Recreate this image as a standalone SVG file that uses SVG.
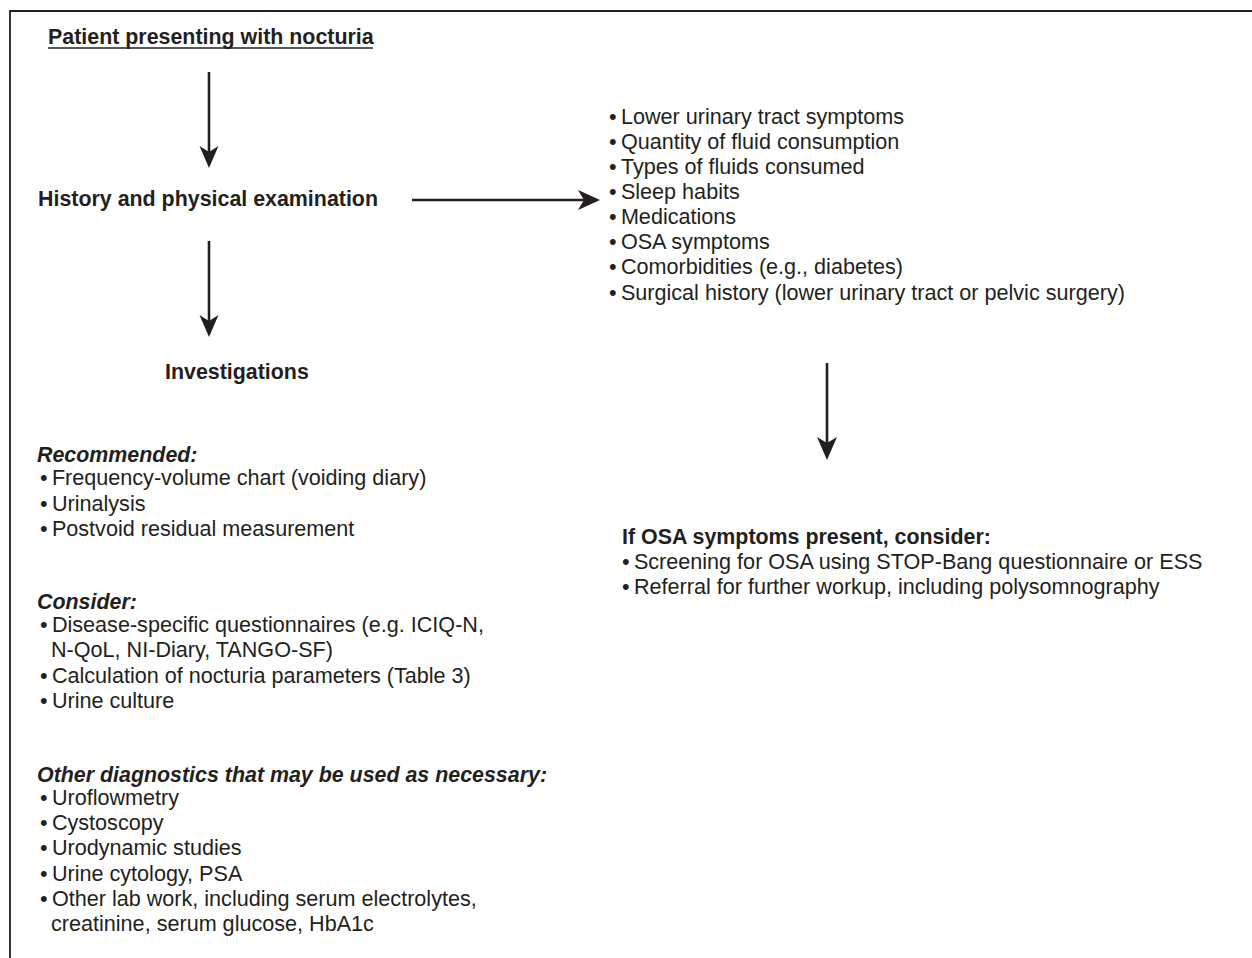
<svg xmlns="http://www.w3.org/2000/svg" width="1252" height="958" viewBox="0 0 1252 958">
<style>
text{font-family:"Liberation Sans",Arial,Helvetica,sans-serif;fill:#231f20;font-size:21.6px}
.b{font-weight:bold;font-size:21.4px}
.bi{font-weight:bold;font-style:italic;font-size:21.4px}
.ln{stroke:#231f20;stroke-width:2.6;fill:none}
.hd{fill:#231f20;stroke:none}
.frame{stroke:#231f20;stroke-width:1.8;fill:none}
</style>
<rect width="1252" height="958" fill="#ffffff"/>
<g id="frame">
<path class="frame" d="M10,958 L10,11 L1252,11"/>
</g>
<g id="connectors">
<line class="ln" x1="209" y1="72" x2="209" y2="155"/>
<path class="hd" d="M209,168 L199.5,146 L209,152 L218.5,146 Z"/>
<line class="ln" x1="209" y1="241" x2="209" y2="324"/>
<path class="hd" d="M209,337 L199.5,315 L209,321 L218.5,315 Z"/>
<line class="ln" x1="412" y1="200" x2="588" y2="200"/>
<path class="hd" d="M600,200 L578,190 L584,200 L578,210 Z"/>
<line class="ln" x1="827" y1="363" x2="827" y2="447"/>
<path class="hd" d="M827,460 L817,437 L827,443 L837,437 Z"/>
</g>
<g id="start">
<text class="b" x="48" y="44">Patient presenting with nocturia</text>
<line x1="48" y1="48" x2="373" y2="48" stroke="#231f20" stroke-width="1.6"/>
</g>
<g id="history">
<text class="b" x="38" y="206">History and physical examination</text>
</g>
<g id="investigations">
<text class="b" x="165" y="379">Investigations</text>
</g>
<g id="history-items">
<text x="609" y="124">•&#8201;Lower urinary tract symptoms</text>
<text x="609" y="149">•&#8201;Quantity of fluid consumption</text>
<text x="609" y="174">•&#8201;Types of fluids consumed</text>
<text x="609" y="199">•&#8201;Sleep habits</text>
<text x="609" y="224">•&#8201;Medications</text>
<text x="609" y="249">•&#8201;OSA symptoms</text>
<text x="609" y="274">•&#8201;Comorbidities (e.g., diabetes)</text>
<text x="609" y="300">•&#8201;Surgical history (lower urinary tract or pelvic surgery)</text>
</g>
<g id="osa">
<text class="b" x="622" y="544">If OSA symptoms present, consider:</text>
<text x="622" y="569">•&#8201;Screening for OSA using STOP-Bang questionnaire or ESS</text>
<text x="622" y="594">•&#8201;Referral for further workup, including polysomnography</text>
</g>
<g id="investigation-items">
<text class="bi" x="37" y="462">Recommended:</text>
<text x="40" y="485">•&#8201;Frequency-volume chart (voiding diary)</text>
<text x="40" y="511">•&#8201;Urinalysis</text>
<text x="40" y="536">•&#8201;Postvoid residual measurement</text>
<text class="bi" x="37" y="609">Consider:</text>
<text x="40" y="632">•&#8201;Disease-specific questionnaires (e.g. ICIQ-N,</text>
<text x="51" y="657">N-QoL, NI-Diary, TANGO-SF)</text>
<text x="40" y="683">•&#8201;Calculation of nocturia parameters (Table 3)</text>
<text x="40" y="708">•&#8201;Urine culture</text>
<text class="bi" x="37" y="782">Other diagnostics that may be used as necessary:</text>
<text x="40" y="805">•&#8201;Uroflowmetry</text>
<text x="40" y="830">•&#8201;Cystoscopy</text>
<text x="40" y="855">•&#8201;Urodynamic studies</text>
<text x="40" y="881">•&#8201;Urine cytology, PSA</text>
<text x="40" y="906">•&#8201;Other lab work, including serum electrolytes,</text>
<text x="51" y="931">creatinine, serum glucose, HbA1c</text>
</g>
</svg>
